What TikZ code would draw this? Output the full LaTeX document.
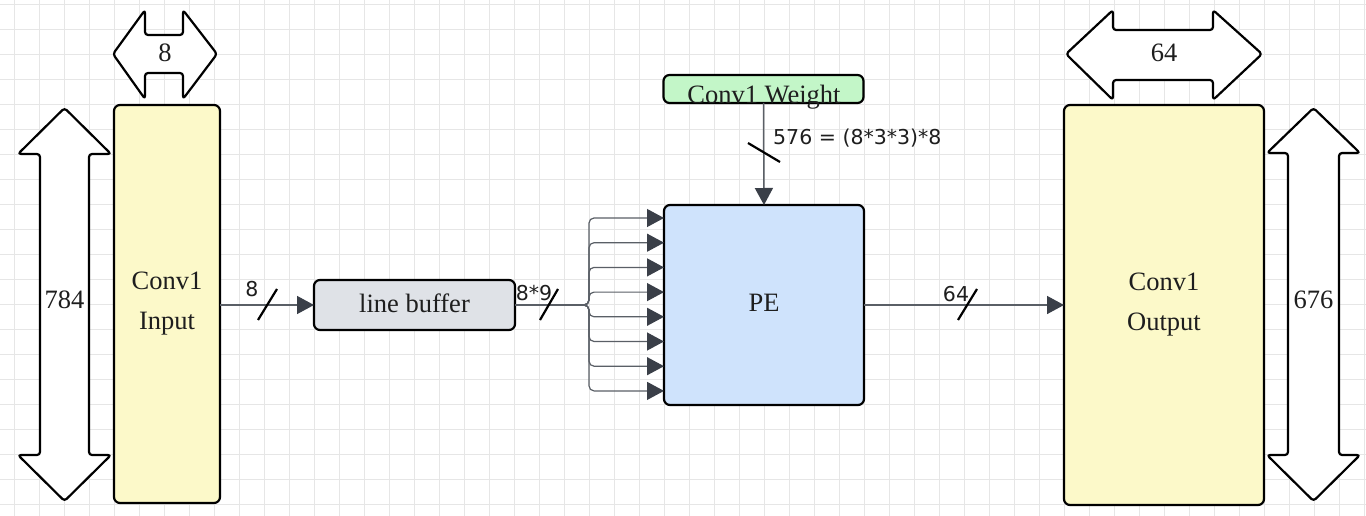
\documentclass[tikz,border=0pt]{standalone}
\usepackage{fontspec}
\setmainfont{Liberation Serif}
\newfontfamily\lblsans{DejaVu Sans}
\usetikzlibrary{arrows.meta,calc}
\definecolor{gridc}{HTML}{E6E6E6}
\definecolor{yelf}{HTML}{FCF9C9}
\definecolor{bluef}{HTML}{CFE3FC}
\definecolor{grayf}{HTML}{DFE2E7}
\definecolor{greenf}{HTML}{C3F6C8}
\definecolor{linec}{HTML}{5A5F66}
\definecolor{arrc}{HTML}{3A3F48}
\definecolor{txtc}{HTML}{1E1E1E}
\tikzset{
  box/.style={draw=black, line width=2.2pt, rounded corners=6pt, inner sep=0pt, outer sep=0pt,
    font=\fontsize{26.5}{40}\selectfont, text=txtc, align=center},
  dblarrow/.style={draw=black, fill=white, line width=2.2pt, rounded corners=3pt, line join=round},
  conn/.style={draw=linec, line width=1.5pt, -{Triangle[length=17pt,width=18pt,color=arrc]}},
  fanline/.style={draw=linec, line width=1.2pt, rounded corners=5pt, -{Triangle[length=17pt,width=18pt,color=arrc]}},
  slash/.style={draw=black, line width=2.2pt},
  elabel/.style={font=\lblsans\fontsize{20.5}{24}\selectfont, text=txtc, inner sep=0pt},
  alabel/.style={font=\fontsize{26.5}{30}\selectfont, text=txtc, inner sep=0pt}
}
\begin{document}
\begin{tikzpicture}[x=1pt,y=-1pt]
\useasboundingbox[fill=white] (0,0) rectangle (1366,516);
% grid
\foreach \gx in {14,39,...,1364} \draw[gridc, line width=0.8pt] (\gx,0) -- (\gx,516);
\foreach \gy in {4,29,...,504} \draw[gridc, line width=0.8pt] (0,\gy) -- (1366,\gy);

% double arrows
\draw[dblarrow] (64.5,108) -- (111,154) -- (89,154) -- (89,455) -- (111,455) -- (64.5,501)
  -- (18,455) -- (40,455) -- (40,154) -- (18,154) -- cycle;
\node[alabel] (l784) at (64.5,300) {784};
\draw[dblarrow] (1313.5,108) -- (1360,153) -- (1339,153) -- (1339,455) -- (1360,455) -- (1313.5,501)
  -- (1267,455) -- (1288,455) -- (1288,153) -- (1267,153) -- cycle;
\node[alabel] (l676) at (1313.5,300) {676};
\draw[dblarrow] (113,54) -- (145,10) -- (145,35) -- (183,35) -- (183,10) -- (217,54)
  -- (183,99) -- (183,73) -- (145,73) -- (145,99) -- cycle;
\node[alabel] (l8) at (165,53) {8};
\draw[dblarrow] (1066,54) -- (1113,10) -- (1113,30) -- (1213,30) -- (1213,10) -- (1262,54)
  -- (1213,100) -- (1213,80) -- (1113,80) -- (1113,100) -- cycle;
\node[alabel] (l64) at (1164,53) {64};

% boxes
\node[box, fill=yelf, minimum width=106pt, minimum height=398pt] (in) at (167,304) {\raisebox{2pt}{Conv1}\\\raisebox{2pt}{Input}};
\node[box, fill=yelf, minimum width=200pt, minimum height=400pt] (out) at (1164,305) {\raisebox{2pt}{Conv1}\\\raisebox{2pt}{Output}};
\node[box, fill=grayf, minimum width=201pt, minimum height=50pt] (lb) at (414.5,305) {\raisebox{4pt}{line buffer}};
\node[box, fill=bluef, minimum width=200pt, minimum height=200pt] (pe) at (764,305) {\raisebox{5pt}{PE}};
\node[box, fill=greenf, minimum width=200pt, minimum height=28pt] (w) at (763.5,89) {};
\node[alabel] (wt) at (764,97) {Conv1 Weight};

% connectors
\draw[conn] (in.east |- lb.west) -- (lb.west);
\draw[conn] (w.south) -- (pe.north);
\draw[conn] (pe.east) -- (out.west |- pe.east);
\coordinate (j) at (589,305);
\foreach \f in {0.065,0.1885,0.312,0.4355,0.559,0.6825,0.806,0.9295}
  \draw[fanline] (lb.east) -- (j) |- ($(pe.north west)!\f!(pe.south west)$);

% slashes
\draw[slash] (258,320) -- (277,289);
\draw[slash] (540,320) -- (558,289);
\draw[slash] (958,320) -- (977,289);
\draw[slash] (748,143) -- (780,162);

% edge labels
\node[elabel] (e8) at (252,289) {8};
\node[elabel] (e89) at (534,293) {8*9};
\node[elabel] (e64) at (956,294) {64};
\node[elabel, anchor=west] (e576) at (773,138) {576 = (8*3*3)*8};
\end{tikzpicture}
\end{document}
